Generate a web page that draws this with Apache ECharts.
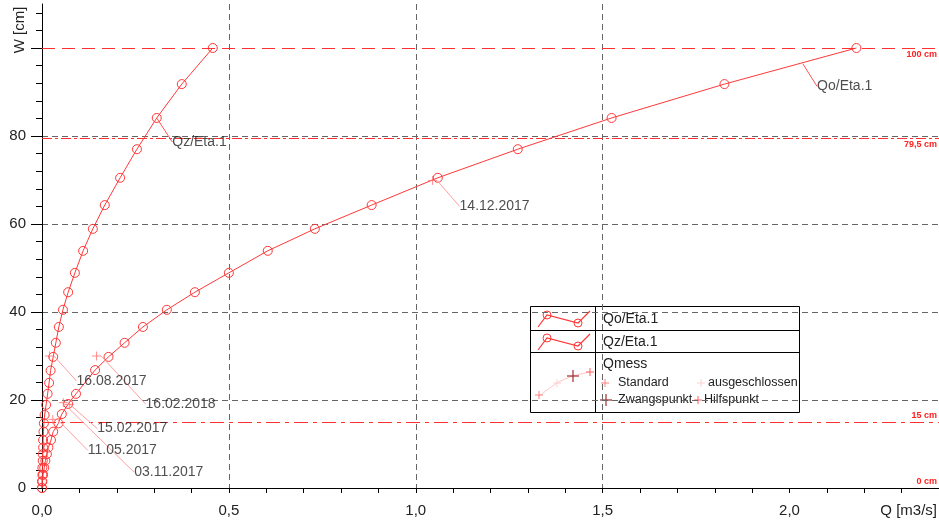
<!DOCTYPE html>
<html>
<head>
<meta charset="utf-8">
<script src="https://cdn.jsdelivr.net/npm/echarts@6/dist/echarts.min.js"></script>
<style>
  html, body { margin: 0; padding: 0; background: #fff; }
  #chart { width: 939px; height: 525px; }
</style>
</head>
<body>
<div id="chart"></div>
<script>
// Abflusskurven Q [m3/s] über Wasserstand W [cm]
const qoQ = [0.000, 0.001, 0.003, 0.006, 0.009, 0.013, 0.017, 0.024, 0.030, 0.044, 0.053, 0.070, 0.091, 0.142, 0.178, 0.221, 0.270, 0.334, 0.409, 0.500, 0.604, 0.730, 0.882, 1.059, 1.273, 1.524, 1.826, 2.179];
const qoW = [0, 1.5, 3.0, 4.6, 6.2, 7.7, 9.2, 10.9, 12.8, 14.7, 16.8, 19.1, 21.4, 26.8, 29.8, 33.0, 36.6, 40.5, 44.5, 48.9, 53.9, 58.9, 64.3, 70.5, 77.0, 84.1, 91.8, 100];
const qzQ = [0.000, 0.000, 0.001, 0.001, 0.002, 0.002, 0.003, 0.003, 0.004, 0.005, 0.007, 0.011, 0.015, 0.019, 0.023, 0.030, 0.037, 0.045, 0.056, 0.070, 0.088, 0.110, 0.136, 0.168, 0.209, 0.254, 0.307, 0.374, 0.457];
const qzW = [0, 1.5, 3.0, 4.6, 6.2, 7.7, 9.2, 10.9, 12.8, 14.7, 16.6, 18.9, 21.4, 23.9, 26.7, 29.8, 33.0, 36.6, 40.5, 44.5, 48.9, 53.9, 58.9, 64.3, 70.5, 77.0, 84.1, 91.8, 100];

// Messungen (Qmess)
const messDates = ["16.08.2017", "16.02.2018", "15.02.2017", "03.11.2017", "11.05.2017", "14.12.2017"];
const messQ = [0.020, 0.146, 0.057, 0.073, 0.029, 1.045];
const messW = [30.0, 30.0, 19.4, 19.0, 15.6, 69.9];

// Beschriftung der Kurven
const curveNames = ["Qo/Eta.1", "Qz/Eta.1"];
const curveLabelQ = [2.035, 0.307];
const curveLabelW = [96.5, 84.1];

// Grenzwasserstände
const refW = [100, 79.5, 15, 0];
const refText = ["100 cm", "79,5 cm", "15 cm", "0 cm"];

const xTicks = [0, 0.5, 1.0, 1.5, 2.0];
const yTicks = [0, 20, 40, 60, 80, 100];
const yTickLabels = [0, 20, 40, 60, 80];

// label offsets (layout only)
const messLabelShift = [[17, 25], [39, 48], [24, 26], [55, 68], [25, 31], [17, 26]];
const curveLabelShift = [[9, 23], [10, 24]];
const refDash = [[13, 7], [10, 3, 3, 3], [14, 5, 4, 5], "solid"];
const refPos = ["insideEndBottom", "insideEndBottom", "insideEndTop", "insideEndTop"];

const FONT = "Liberation Sans, Arial, sans-serif";
const RED = "#ff3838";
const crossPath = "path://M0,5L10,5M5,0L5,10";

const xMinor = [];
for (let i = 0; i <= 23; i++) xMinor.push(i / 10);
const yMinor = [];
for (let i = 0; i <= 108; i += 4) yMinor.push(i);

const chart = echarts.init(document.getElementById("chart"));

function cross(x, y, s, color, w) {
  return [
    { type: "line", shape: { x1: x - s, y1: y, x2: x + s, y2: y }, style: { stroke: color, lineWidth: w || 1 } },
    { type: "line", shape: { x1: x, y1: y - s, x2: x, y2: y + s }, style: { stroke: color, lineWidth: w || 1 } },
  ];
}
function legendText(x, y, text, size) {
  return { type: "text", x: x, y: y, style: { text: text, fill: "#222", font: size + "px " + FONT, textAlign: "left", textVerticalAlign: "middle" } };
}
function legendCurve(dy) {
  return [
    { type: "polyline", shape: { points: [[538, 327 + dy], [547, 315 + dy], [578, 323 + dy], [590, 311 + dy]] }, style: { stroke: RED, lineWidth: 1.2, fill: null } },
    { type: "circle", shape: { cx: 547, cy: 315 + dy, r: 4 }, style: { stroke: RED, fill: null } },
    { type: "circle", shape: { cx: 578, cy: 323 + dy, r: 4 }, style: { stroke: RED, fill: null } },
  ];
}

const legendItems = [].concat(
  [
    { type: "rect", shape: { x: 530.5, y: 306.5, width: 269, height: 106 }, style: { fill: "#fff", stroke: "#000", lineWidth: 1 } },
    { type: "line", shape: { x1: 530.5, y1: 330.5, x2: 799.5, y2: 330.5 }, style: { stroke: "#000" } },
    { type: "line", shape: { x1: 530.5, y1: 352.5, x2: 799.5, y2: 352.5 }, style: { stroke: "#000" } },
    { type: "line", shape: { x1: 595.5, y1: 306.5, x2: 595.5, y2: 412.5 }, style: { stroke: "#000" } },
  ],
  legendCurve(0),
  legendCurve(23),
  [
    { type: "polyline", shape: { points: [[538, 397], [557, 383], [573, 376], [590, 372]], smooth: 0.3 }, style: { stroke: "#ffc4c4", lineWidth: 1, fill: null } },
  ],
  cross(539, 395, 4, "#ff8080"),
  cross(557, 383, 4, "#ffd0d0"),
  cross(573, 376, 6, "#a03030", 1.2),
  cross(590, 372, 4, "#ff6060"),
  [
    legendText(603, 319, "Qo/Eta.1", 14),
    legendText(603, 342, "Qz/Eta.1", 14),
    legendText(603, 364, "Qmess", 14),
    legendText(618, 383, "Standard", 12.5),
    legendText(708, 383, "ausgeschlossen", 12.5),
    legendText(618, 400, "Zwangspunkt", 12.5),
    legendText(704, 400, "Hilfspunkt", 12.5),
  ],
  cross(605, 383, 4, "#ff8080"),
  cross(701, 383, 4, "#ffd0d0"),
  cross(606, 400, 6, "#a03030", 1.2),
  cross(698, 400, 4, "#ff6060")
);

const option = {
  animation: false,
  backgroundColor: "#fff",
  textStyle: { fontFamily: FONT },
  grid: { left: 42, right: 0, top: 4, bottom: 37, containLabel: false, outerBoundsMode: "none" },
  xAxis: [
    {
      type: "value", min: 0, max: 2.4, interval: 0.5, position: "bottom",
      axisLine: { lineStyle: { color: "#000", width: 1 } },
      axisTick: { length: 5, customValues: xTicks, lineStyle: { color: "#000" } },
      axisLabel: {
        customValues: xTicks, margin: 15, fontSize: 15, color: "#222", fontFamily: FONT,
        formatter: (v) => v.toFixed(1).replace(".", ","),
      },
      splitLine: { show: true, showMinLine: false, showMaxLine: false, lineStyle: { color: "#666", type: [6, 4], width: 1 } },
    },
    {
      type: "value", min: 0, max: 2.4, position: "bottom",
      axisLine: { show: false },
      axisTick: { length: 5, customValues: xMinor, lineStyle: { color: "#000" } },
      axisLabel: { show: false },
      splitLine: { show: false },
    },
  ],
  yAxis: [
    {
      type: "value", min: 0, max: 110, interval: 20, position: "left",
      axisLine: { show: true, lineStyle: { color: "#000", width: 1 } },
      axisTick: { length: 11, customValues: yTicks, lineStyle: { color: "#000" } },
      axisLabel: { customValues: yTickLabels, margin: 16, fontSize: 15, color: "#222", fontFamily: FONT },
      splitLine: { show: true, showMinLine: false, showMaxLine: false, lineStyle: { color: "#666", type: [6, 4], width: 1 } },
    },
    {
      type: "value", min: 0, max: 110, position: "left",
      axisLine: { show: false },
      axisTick: { length: 6, customValues: yMinor, lineStyle: { color: "#000" } },
      axisLabel: { show: false },
      splitLine: { show: false },
    },
  ],
  graphic: [
    {
      type: "text", x: 19.5, y: 30, rotation: Math.PI / 2,
      style: { text: "W [cm]", fill: "#222", font: "15px " + FONT, textAlign: "center", textVerticalAlign: "middle" },
    },
    {
      type: "text", x: 937, y: 511,
      style: { text: "Q [m3/s]", fill: "#222", font: "15px " + FONT, textAlign: "right", textVerticalAlign: "middle" },
    },
    { type: "group", z: 100, children: legendItems },
  ],
  series: [
    {
      name: "Qo/Eta.1", type: "line",
      data: qoQ.map((q, i) => [q, qoW[i]]),
      symbol: "circle", symbolSize: 9,
      lineStyle: { color: RED, width: 1 },
      itemStyle: { color: "rgba(0,0,0,0)", borderColor: RED, borderWidth: 1 },
      markLine: {
        silent: true,
        symbol: ["none", "none"],
        lineStyle: { color: "#ff3030", width: 1 },
        label: { color: "#ff2020", fontSize: 9, fontWeight: "bold", fontFamily: FONT, distance: 2 },
        data: refW.map((w, i) => ({
          yAxis: w,
          label: { formatter: refText[i], position: refPos[i] },
          lineStyle: { type: refDash[i], color: w === 0 ? "rgba(0,0,0,0)" : "#ff3030" },
        })),
      },
    },
    {
      name: "Qz/Eta.1", type: "line",
      data: qzQ.map((q, i) => [q, qzW[i]]),
      symbol: "circle", symbolSize: 9,
      lineStyle: { color: RED, width: 1 },
      itemStyle: { color: "rgba(0,0,0,0)", borderColor: RED, borderWidth: 1 },
    },
    {
      name: "Qmess", type: "scatter",
      data: messQ.map((q, i) => ({ name: messDates[i], value: [q, messW[i]] })),
      symbol: crossPath, symbolSize: 9,
      itemStyle: { color: "rgba(0,0,0,0)", borderColor: "#ff7070", borderWidth: 1 },
      label: { show: true, position: "right", formatter: "{b}", color: "#222", fontSize: 14, fontFamily: FONT },
      labelLayout: (p) => ({ dx: messLabelShift[p.dataIndex][0], dy: messLabelShift[p.dataIndex][1] }),
      labelLine: { show: true, lineStyle: { color: "#ffa0a0", width: 1 } },
      z: 5,
    },
    {
      name: "Kurven", type: "scatter",
      data: curveNames.map((n, i) => ({ name: n, value: [curveLabelQ[i], curveLabelW[i]] })),
      symbolSize: 1,
      itemStyle: { color: "rgba(0,0,0,0)" },
      label: { show: true, position: "right", formatter: "{b}", color: "#222", fontSize: 14, fontFamily: FONT },
      labelLayout: (p) => ({ dx: curveLabelShift[p.dataIndex][0], dy: curveLabelShift[p.dataIndex][1] }),
      labelLine: { show: true, lineStyle: { color: "#ff5050", width: 1 } },
      z: 5,
    },
  ],
};

chart.setOption(option);
</script>
</body>
</html>
